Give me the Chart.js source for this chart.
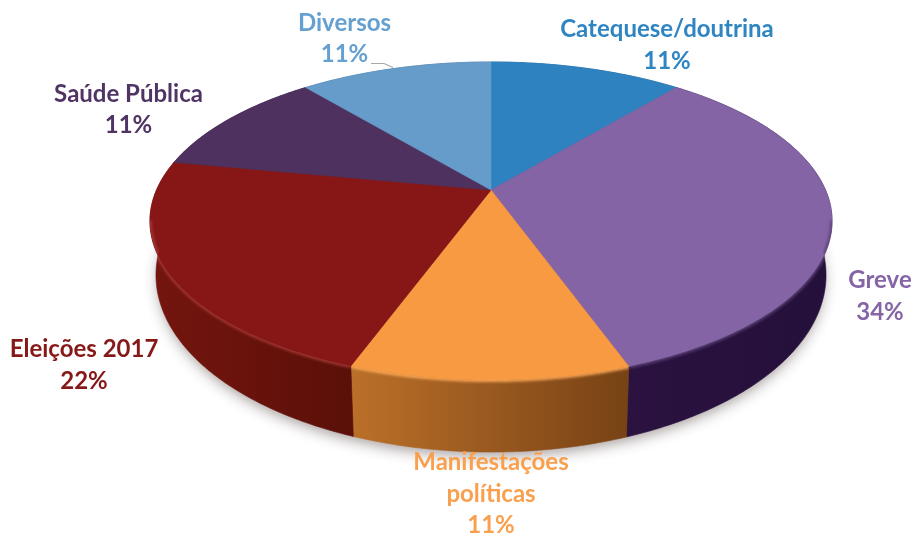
<!DOCTYPE html>
<html><head><meta charset="utf-8">
<style>html,body{margin:0;padding:0;background:#fff}canvas{display:block}</style>
<script src="https://cdn.jsdelivr.net/npm/chart.js@4/dist/chart.umd.js"></script>
</head><body><canvas id="c" width="916" height="538"></canvas>
<script>
const categories = ['Catequese/doutrina','Greve','Manifestações políticas','Eleições 2017','Saúde Pública','Diversos'];
const values = [11,34,11,22,11,11];
const percentLabels = ['11%','34%','11%','22%','11%','11%'];
const faceColors = ['#2e82c0','#8564a5','#f79a41','#861716','#4e315f','#659cca'];
const textColors = ['#2f85c2','#8565a5','#f9a04e','#861818','#4f3464','#65a0d0'];
const sideStops = [
  ['#1d5a88','#1d5a88'],['#2b1240','#24103a'],['#bb7029','#774215'],
  ['#75150f','#5a1008'],['#33203f','#33203f'],['#40688a','#40688a']];
const rimColors = [null,'#5b4278','#ffab5a','#a83a38',null,null];

// Perspective of the top disc (layout only)
const P = {cx:491, cy:190, A:334.5, B:153, k:0.195, ecy:221, erx:341, ery:159, lcy:275, lrx:335, lry:177, warp:-0.032};
const topPt = t0 => { const c0 = Math.cos(t0), t = t0 + (c0<0 ? P.warp*c0*c0 : 0), w = 1 + P.k*Math.cos(t);
  return [P.cx + P.A*Math.sin(t)/w, P.cy - P.B*Math.cos(t)/w]; };
const lowPt = t => { const p = topPt(t);
  return [P.cx + (p[0]-P.cx)/P.erx*P.lrx, P.lcy + (p[1]-P.ecy)/P.ery*P.lry]; };
const arcPts = (fn,a,b) => { const n = Math.max(2,Math.ceil(Math.abs(b-a)*90)), r=[];
  for(let i=0;i<=n;i++) r.push(fn(a+(b-a)*i/n)); return r; };
const trace = (ctx,pts,move) => pts.forEach((p,i)=> (i===0&&move)?ctx.moveTo(p[0],p[1]):ctx.lineTo(p[0],p[1]));

const labelLayout = [
  {x:667,ys:[37,69]},{x:880,ys:[288,320]},{x:491,ys:[470,502,533]},
  {x:84,ys:[357,389]},{x:128.5,ys:[102,133]},{x:344.5,ys:[31,62]}];
const labelLines = [['Catequese/doutrina'],['Greve'],['Manifestações','políticas'],['Eleições 2017'],['Saúde Pública'],['Diversos']];

const disc3d = {
  id:'disc3d',
  beforeDatasetsDraw(chart){
    const ctx = chart.ctx, arcs = chart.getDatasetMeta(0).data;
    const ang = a => ({s:a.startAngle+Math.PI/2, e:a.endAngle+Math.PI/2});
    // soft ground shadow
    ctx.save();
    ctx.shadowColor='rgba(60,40,40,.45)'; ctx.shadowBlur=14; ctx.shadowOffsetY=5;
    ctx.fillStyle='#444'; ctx.beginPath();
    ctx.ellipse(P.cx,P.lcy,P.lrx-2,P.lry-1,0,0,Math.PI*2); ctx.fill();
    ctx.restore();
    // side walls
    arcs.forEach((a,i)=>{ const {s,e}=ang(a);
      const tp=arcPts(topPt,s,e), lp=arcPts(lowPt,s,e).reverse();
      const xs=tp.concat(lp).map(p=>p[0]);
      const g=ctx.createLinearGradient(Math.min(...xs),0,Math.max(...xs),0);
      g.addColorStop(0,sideStops[i][0]); g.addColorStop(1,sideStops[i][1]);
      ctx.beginPath(); trace(ctx,tp,true); trace(ctx,lp,false); ctx.closePath();
      ctx.fillStyle=g; ctx.fill();
      ctx.strokeStyle=g; ctx.lineWidth=.6; ctx.stroke();
    });
    // top faces
    arcs.forEach((a,i)=>{ const {s,e}=ang(a);
      ctx.beginPath(); ctx.moveTo(P.cx,P.cy); trace(ctx,arcPts(topPt,s,e),false); ctx.closePath();
      ctx.fillStyle=faceColors[i]; ctx.fill();
      ctx.strokeStyle=faceColors[i]; ctx.lineWidth=.6; ctx.stroke();
    });
    // bevel rim along the visible front edge only
    const frontA = 101*Math.PI/180, frontB = 259*Math.PI/180;
    arcs.forEach((a,i)=>{ if(!rimColors[i]) return; const {s,e}=ang(a);
      ctx.save();
      ctx.beginPath(); ctx.moveTo(P.cx,P.cy);
      trace(ctx,arcPts(topPt,s,e),false); trace(ctx,arcPts(lowPt,e,s),false);
      ctx.lineTo(topPt(s)[0],topPt(s)[1]); ctx.closePath(); ctx.clip();
      ctx.filter='blur(1.5px)';
      ctx.beginPath(); trace(ctx,arcPts(topPt,Math.max(s,frontA),Math.min(e,frontB)),true);
      ctx.strokeStyle=rimColors[i]; ctx.lineWidth=3.5; ctx.stroke();
      ctx.restore();
    });
    return false;
  },
  afterDraw(chart){
    const ctx=chart.ctx;
    ctx.save();
    ctx.font='bold 24px Lato'; ctx.textAlign='center'; ctx.textBaseline='alphabetic';
    categories.forEach((c,i)=>{
      const l=labelLayout[i], lines=labelLines[i].concat(percentLabels[i]);
      ctx.fillStyle=textColors[i];
      lines.forEach((t,j)=>ctx.fillText(t,l.x,l.ys[j]));
    });
    ctx.strokeStyle='#a9a9a9'; ctx.lineWidth=1.2;
    ctx.beginPath(); ctx.moveTo(371,63.5); ctx.lineTo(384,63.5); ctx.lineTo(393,67.5); ctx.stroke();
    ctx.restore();
  }
};

new Chart(document.getElementById('c'),{
  type:'pie',
  data:{labels:categories,datasets:[{data:values,backgroundColor:faceColors,borderWidth:0}]},
  options:{responsive:false,animation:false,
    plugins:{legend:{display:false},tooltip:{enabled:false}}},
  plugins:[disc3d]
});
</script></body></html>
